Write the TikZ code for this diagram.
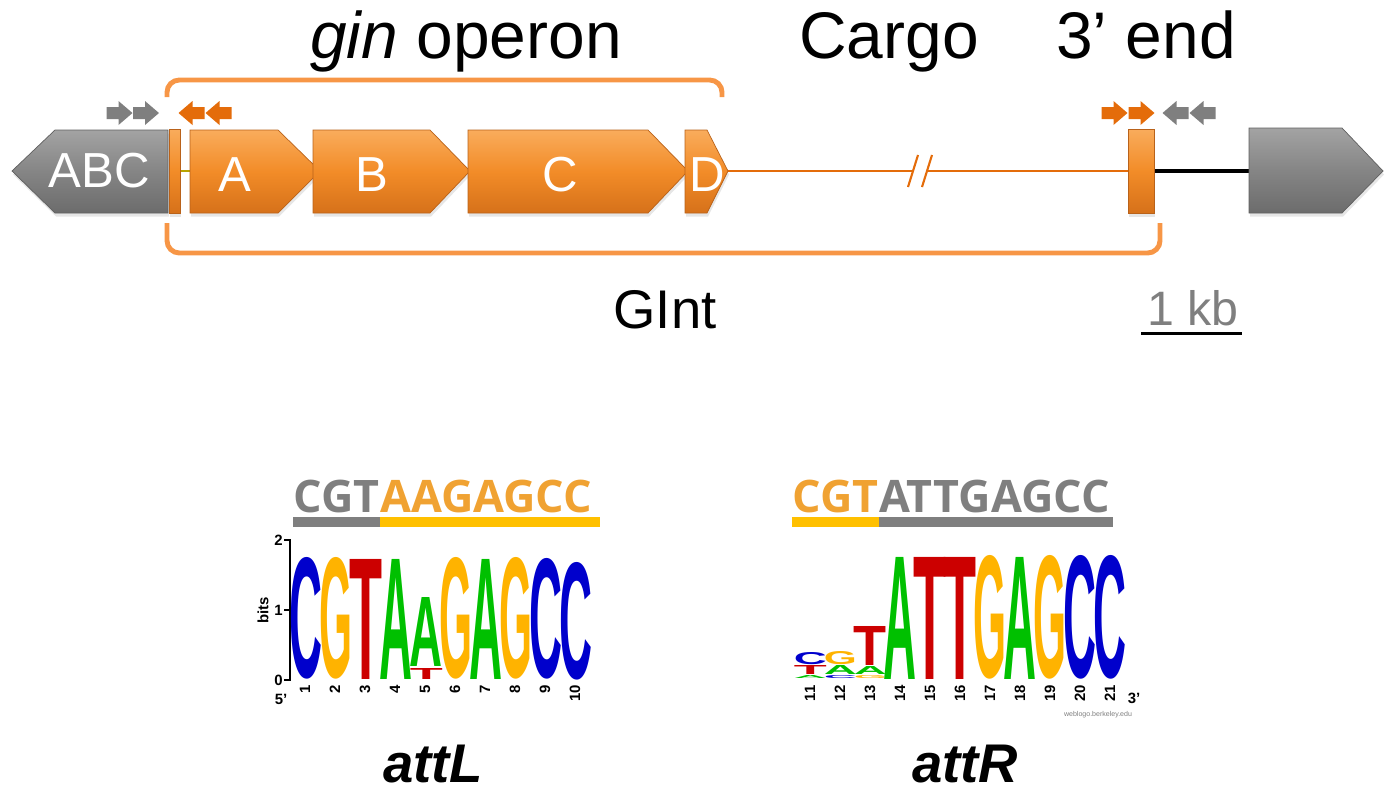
\documentclass[tikz,border=0pt]{standalone}
\usepackage{fontspec}
\setmainfont{Liberation Sans}
\newfontfamily\seqfont{Open Sans}
\usetikzlibrary{shadows}

\definecolor{geneorange}{HTML}{F28C28}
\definecolor{geneorangetop}{HTML}{F9AC5C}
\definecolor{geneorangebot}{HTML}{D6711A}
\definecolor{geneedge}{HTML}{B9621A}
\definecolor{genegray}{HTML}{858585}
\definecolor{genegraytop}{HTML}{A3A3A3}
\definecolor{genegraybot}{HTML}{6C6C6C}
\definecolor{grayedge}{HTML}{5F5F5F}
\definecolor{primerorange}{HTML}{E46C0A}
\definecolor{flankgray}{HTML}{7F7F7F}
\definecolor{bracketorange}{HTML}{F79646}
\definecolor{spacerolive}{HTML}{B8A400}
\definecolor{seqorange}{HTML}{F0A232}
\definecolor{baryellow}{HTML}{FFC000}
\definecolor{logoblue}{HTML}{0000CC}
\definecolor{logoorange}{HTML}{FFB300}
\definecolor{logogreen}{HTML}{00C000}
\definecolor{logored}{HTML}{CC0000}

\newlength\logopx
\setlength\logopx{0.02cm}
\newcommand{\logofont}{\bfseries}
% name, left x, top y, bottom y, colour, letter
\newcommand{\logoletter}[6]{%
  \pgfmathsetmacro\lh{#4-#3}%
  \node[logoltr, text=#5] (#1) at ({#2-1.5},{#4}) {\resizebox{33\logopx}{\lh\logopx}{\logofont #6}};}

\tikzset{
  orangegene/.style={top color=geneorangetop, bottom color=geneorangebot, middle color=geneorange,
    draw=geneedge, line width=0.4pt, drop shadow={opacity=0.2, shadow xshift=0.6pt, shadow yshift=-2pt}},
  graygene/.style={top color=genegraytop, bottom color=genegraybot, middle color=genegray,
    draw=grayedge, line width=0.4pt, drop shadow={opacity=0.2, shadow xshift=0.6pt, shadow yshift=-2pt}},
  genelbl/.style={text=white, font=\fontsize{28}{30}\selectfont, inner sep=0pt},
  biglbl/.style={font=\fontsize{37.5}{40}\selectfont, anchor=base, inner sep=0pt},
  midlbl/.style={font=\fontsize{31}{34}\selectfont, anchor=base, inner sep=0pt},
  bracket/.style={draw=bracketorange, line width=2.8pt, rounded corners=7pt},
  cargo/.style={draw=primerorange, line width=1.2pt},
  seqtxt/.style={font=\seqfont\fontsize{25.5}{28}\selectfont\bfseries, inner sep=0pt},
  seqbar/.style={line width=5.7pt},
  logoltr/.style={anchor=south west, inner sep=0pt},
  axisnum/.style={font=\fontsize{8.5}{9}\selectfont\bfseries, inner sep=0.5pt},
  attlbl/.style={font=\fontsize{31}{34}\selectfont\bfseries\itshape, anchor=base, inner sep=0pt},
  primer/.pic={\fill (-13,-6) -- (-1,-6) -- (-1,-12) -- (13,0) -- (-1,12) -- (-1,6) -- (-13,6) -- cycle;}
}

\begin{document}
\begin{tikzpicture}[x=0.02cm, y=-0.02cm]
\useasboundingbox (0,0) rectangle (1395,788);

% primers
\pic[fill=flankgray] at (119.5,113) {primer};
\pic[fill=flankgray] at (146,113) {primer};
\pic[fill=primerorange, xscale=-1] at (191.5,113) {primer};
\pic[fill=primerorange, xscale=-1] at (218.5,113) {primer};
\pic[fill=primerorange] at (1114.5,113) {primer};
\pic[fill=primerorange] at (1141.5,113) {primer};
\pic[fill=flankgray, xscale=-1] at (1175.5,113) {primer};
\pic[fill=flankgray, xscale=-1] at (1202.5,113) {primer};

% brackets
\draw[bracket] (167,97) -- (167,80) -- (722,80) -- (722,97);
\draw[bracket] (167,223) -- (167,253) -- (1160,253) -- (1160,223);

% lines between the genes
\coordinate (abcR) at (180,171);
\coordinate (aL) at (190,171);
\coordinate (dTip) at (728,171);
\coordinate (brkL) at (913,171);
\coordinate (brkR) at (927,171);
\coordinate (endL) at (1128,171);
\coordinate (endR) at (1154,171);
\coordinate (grayL) at (1249,171);
\draw[spacerolive, line width=1.2pt] (abcR) -- (aL);
\draw[cargo] (dTip) -- (brkL) (brkR) -- (endL);
\draw[cargo] ([shift={(-5,16)}]brkL) -- ([shift={(5,-16)}]brkL);
\draw[cargo] ([shift={(-5,16)}]brkR) -- ([shift={(5,-16)}]brkR);
\draw[line width=1.8pt] (endR) -- (grayL);

% genes
\path[graygene] (168,130) -- (55,130) -- (12,171) -- (55,213) -- (168,213) -- cycle;
\path[orangegene] (169,129) rectangle (180,213);
\path[orangegene] (190,130) -- (278,130) -- (320,171) -- (278,213) -- (190,213) -- cycle;
\path[orangegene] (313,130) -- (430,130) -- (470,171) -- (430,213) -- (313,213) -- cycle;
\path[orangegene] (468,130) -- (648,130) -- (688,171) -- (648,213) -- (468,213) -- cycle;
\path[orangegene] (685,130) -- (707,130) -- (728,171) -- (707,213) -- (685,213) -- cycle;
\path[orangegene] (1128,129) rectangle (1154,213);
\path[graygene] (1249,128) -- (1342,128) -- (1383,171) -- (1342,213) -- (1249,213) -- cycle;

\node[genelbl] (abc) at (99,171) {ABC};
\node[genelbl] (ginA) at (235,175) {A};
\node[genelbl] (ginB) at (372,175) {B};
\node[genelbl] (ginC) at (560,175) {C};
\node[genelbl] (ginD) at (707,175) {D};

% labels
\node[biglbl] (ginlbl) at (466,58) {\textit{gin} operon};
\node[biglbl] (cargolbl) at (889,58) {Cargo};
\node[biglbl] (endlbl) at (1146,58) {3’ end};
\node[midlbl] (gintlbl) at (665,328) {GInt};
\node[midlbl, text=flankgray, font=\fontsize{27.5}{30}\selectfont] (kblbl) at (1193,325) {1 kb};
\draw[line width=1.7pt] ([shift={(-6,8)}]kblbl.base west) -- ([shift={(3,8)}]kblbl.base east);

% attL
\node[seqtxt, text=flankgray, anchor=base west] (Lcgt) at (293,512) {CGT};
\node[seqtxt, text=seqorange, anchor=base west] (Lcore) at (Lcgt.base east) {AAGAGCC};
\draw[seqbar, flankgray] ([yshift=-5.7pt]Lcgt.base west) -- ([yshift=-5.7pt]Lcgt.base east);
\draw[seqbar, baryellow] ([yshift=-5.7pt]Lcore.base west) -- ([shift={(8,0)},yshift=-5.7pt]Lcore.base east);

\draw[line width=0.8pt] (284,540) -- (290,540) -- (290,680) -- (284,680) (284,610) -- (290,610);
\node[axisnum, anchor=east] (bitsTwo) at (284,540) {2};
\node[axisnum, anchor=east] (bitsOne) at (284,610) {1};
\node[axisnum, anchor=east] (bitsZero) at (284,680) {0};
\node[axisnum, rotate=90] (bitslbl) at (263,610) {bits};
\node[axisnum] (fiveL) at (281,699) {5'};

\foreach \ltr/\clr/\tp/\bt [count=\i] in {C/logoblue/560/680, G/logoorange/560/680, T/logored/560/680,
    A/logogreen/560/680, A/logogreen/598/667, G/logoorange/560/680, A/logogreen/560/680,
    G/logoorange/560/680, C/logoblue/561/680, C/logoblue/564/680}
  \logoletter{attL\i}{291+30*(\i-1)}{\tp}{\bt}{\clr}{\ltr};
\logoletter{attLfiveT}{411}{669}{680}{logored}{T}
\foreach \i in {1,...,10}
  \node[axisnum, rotate=90, anchor=east] (posL\i) at ({305+30*(\i-1)},684) {\i};

\node[attlbl] (attLlbl) at (433,782) {attL};

% attR
\node[seqtxt, text=seqorange, anchor=base west] (Rcgt) at (792,512) {CGT};
\node[seqtxt, text=flankgray, anchor=base west] (Rcore) at (Rcgt.base east) {ATTGAGCC};
\draw[seqbar, baryellow] ([yshift=-5.7pt]Rcgt.base west) -- ([yshift=-5.7pt]Rcgt.base east);
\draw[seqbar, flankgray] ([yshift=-5.7pt]Rcore.base west) -- ([shift={(3,0)},yshift=-5.7pt]Rcore.base east);

\logoletter{attR11c}{795}{653}{665}{logoblue}{C}
\logoletter{attR11t}{795}{666}{675}{logored}{T}
\logoletter{attR11a}{795}{676}{679}{logogreen}{A}
\logoletter{attR12g}{825}{652}{665}{logoorange}{G}
\logoletter{attR12a}{825}{666}{675}{logogreen}{A}
\logoletter{attR12c}{825}{676}{679}{logoblue}{C}
\logoletter{attR13t}{855}{627}{666}{logored}{T}
\logoletter{attR13a}{855}{667}{675}{logogreen}{A}
\logoletter{attR13g}{855}{676}{679}{logoorange}{G}
\foreach \ltr/\clr [count=\i from 14] in {A/logogreen, T/logored, T/logored, G/logoorange,
    A/logogreen, G/logoorange, C/logoblue, C/logoblue}
  \logoletter{attR\i}{795+30*(\i-11)}{558}{680}{\clr}{\ltr};
\foreach \i in {11,...,21}
  \node[axisnum, rotate=90, anchor=east] (posR\i) at ({810+30*(\i-11)},684) {\i};
\node[axisnum] (threeR) at (1134,698) {3'};
\node[text=flankgray, font=\fontsize{4}{5}\selectfont, inner sep=0pt] (webref) at (1098,715) {weblogo.berkeley.edu};

\node[attlbl] (attRlbl) at (965,782) {attR};
\end{tikzpicture}
\end{document}
